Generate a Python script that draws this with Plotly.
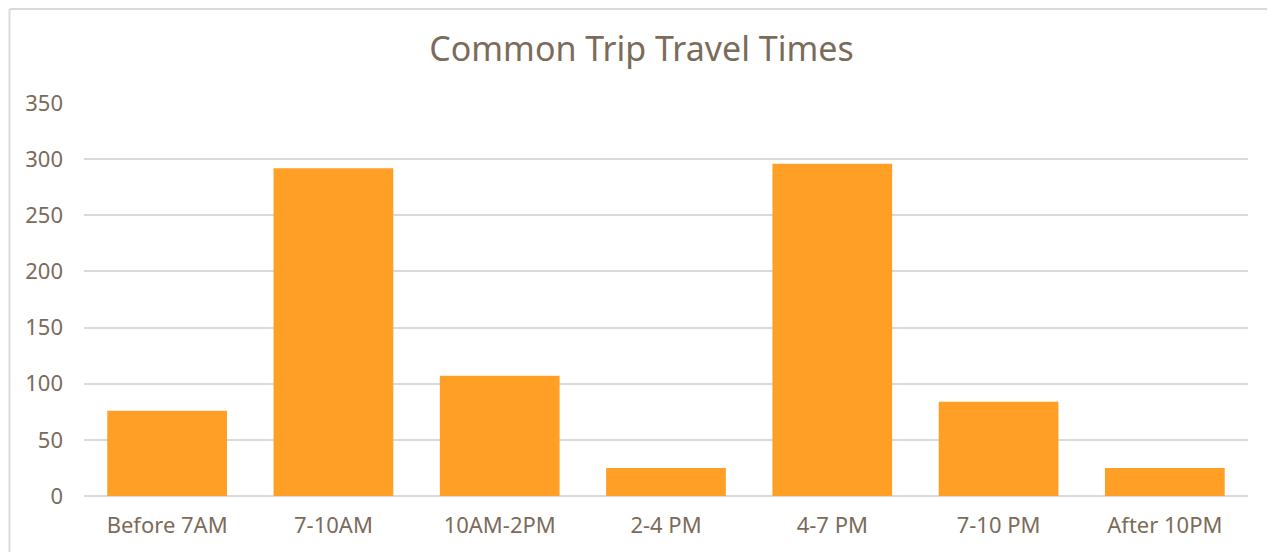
import plotly.graph_objects as go

# Travel time buckets and trip counts
categories = ["Before 7AM", "7-10AM", "10AM-2PM", "2-4 PM", "4-7 PM", "7-10 PM", "After 10PM"]
trips = [76, 292, 107, 25, 296, 84, 25]
y_ticks = [0, 50, 100, 150, 200, 250, 300, 350]

TEXT = "#7B6B5A"
GRID = "#D9D9D9"
BAR = "#FF9F25"
FONT = "Noto Sans"

fig = go.Figure(
    go.Bar(
        x=categories,
        y=trips,
        marker=dict(color=BAR, line=dict(width=0)),
    )
)

# page body adds an 8px margin, so the figure is a bit smaller than the window
fig.update_layout(
    width=1267,
    height=544,
    margin=dict(l=76, r=27, t=95, b=56),
    paper_bgcolor="white",
    plot_bgcolor="white",
    bargap=0.28,
    showlegend=False,
    font=dict(family=FONT, color=TEXT, size=22),
    title=dict(
        text="Common Trip Travel Times",
        x=0.5,
        xanchor="center",
        y=0.925,
        yanchor="middle",
        font=dict(family=FONT, size=34, color=TEXT),
    ),
    xaxis=dict(
        showgrid=False,
        showline=False,
        ticks="",
        ticklabelstandoff=14,
        tickfont=dict(size=22, color=TEXT),
    ),
    yaxis=dict(
        range=[0, 350],
        tickvals=y_ticks,
        showgrid=True,
        gridcolor=GRID,
        gridwidth=1.5,
        zeroline=True,
        zerolinecolor=GRID,
        zerolinewidth=1.5,
        ticks="",
        ticklabelstandoff=20,
        tickfont=dict(size=22, color=TEXT),
    ),
)

# chart-area border (left and top edges visible in the frame)
fig.add_shape(type="line", xref="paper", yref="paper",
              x0=-0.064, x1=1.1, y0=1.239, y1=1.239,
              line=dict(color=GRID, width=2))
fig.add_shape(type="line", xref="paper", yref="paper",
              x0=-0.064, x1=-0.064, y0=-0.2, y1=1.239,
              line=dict(color=GRID, width=2))

fig.write_html("out.html")
